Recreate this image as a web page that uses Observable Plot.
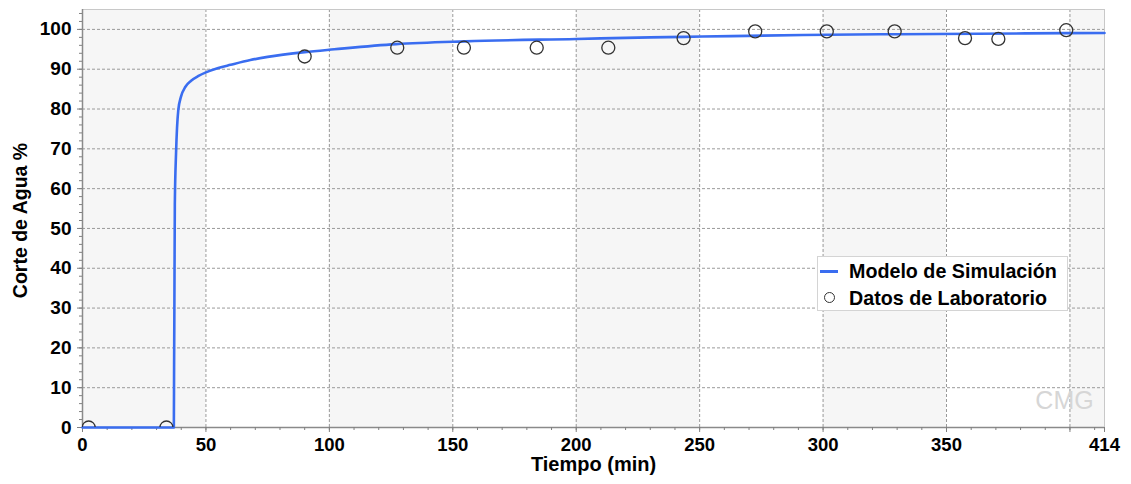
<!DOCTYPE html>
<html>
<head>
<meta charset="utf-8">
<script src="https://cdn.jsdelivr.net/npm/d3@7"></script>
<script src="https://cdn.jsdelivr.net/npm/@observablehq/plot@0.6"></script>
<style>
  body { margin: 0; background: #fff; font-family: "Liberation Sans", Arial, sans-serif; }
  #wrap { position: relative; width: 1131px; height: 484px; }
  #legend { position: absolute; left: 817px; top: 256px; width: 251px; height: 55px; background: #fff;
            border: 1px solid #d4d4d4; box-sizing: border-box; }
  .lg-text { position: absolute; left: 31px; font-weight: bold; font-size: 19.7px; line-height: 20px; color: #000; white-space: nowrap; }
  .lg-line { position: absolute; left: 2px; width: 18px; height: 3px; background: #3a6df0; }
  .lg-dot { position: absolute; left: 6px; width: 11px; height: 11px; border: 1.3px solid #333; border-radius: 50%; box-sizing: border-box; }
</style>
</head>
<body>
<div id="wrap">
  <div id="chart"></div>
  <div id="legend">
    <div class="lg-line" style="top:13px"></div>
    <div class="lg-text" style="top:4px">Modelo de Simulación</div>
    <div class="lg-dot" style="top:35px"></div>
    <div class="lg-text" style="top:30.5px">Datos de Laboratorio</div>
  </div>
</div>
<script>
// ---- Data ----
const simT = [0, 37.0, 37.1, 37.2, 37.4, 37.9, 38.8, 39.9, 41.7, 44, 47, 50, 55, 60, 68, 75, 90, 102, 127, 155, 200, 230, 251, 292, 330, 382, 414];
const simV = [0, 0, 15, 27, 56, 69, 79.7, 83.1, 85.6, 87.1, 88.3, 89.2, 90.3, 91.1, 92.3, 93.1, 94.3, 95.0, 96.3, 97.0, 97.6, 98.0, 98.2, 98.6, 98.8, 99.0, 99.1];

const labT = [2.5, 34, 90, 127.5, 154.5, 184, 213, 243.5, 272.5, 301.5, 329, 357.5, 371, 398.5];
const labV = [0, 0, 93.2, 95.4, 95.4, 95.4, 95.4, 97.8, 99.5, 99.5, 99.5, 97.8, 97.6, 99.8];

const bandStart = [0, 100, 200, 300, 400];
const bandEnd = [50, 150, 250, 350, 414];

const xMajorTicks = [0, 50, 100, 150, 200, 250, 300, 350, 400, 414];
const xTickLabels = ["0", "50", "100", "150", "200", "250", "300", "350", "", "414"];
const xGridLines = [50, 100, 150, 200, 250, 300, 350, 400];
const xMinorTicks = d3.range(0, 414, 10);
const yMajorTicks = [0, 10, 20, 30, 40, 50, 60, 70, 80, 90, 100];
const yMinorTicks = d3.range(0, 106, 2);

const xTitle = "Tiempo (min)";
const yTitle = "Corte de Agua %";
const watermark = "CMG";

// ---- Build tables ----
const sim = simT.map((t, i) => ({t, v: simV[i]}));
const lab = labT.map((t, i) => ({t, v: labV[i]}));
const bands = bandStart.map((s, i) => ({x1: s, x2: bandEnd[i]}));
const FONT = "'Liberation Sans', Arial, sans-serif";

const chart = Plot.plot({
  width: 1131,
  height: 484,
  marginLeft: 82,
  marginRight: 27,
  marginTop: 9,
  marginBottom: 57,
  style: {fontFamily: FONT, background: "#fff", overflow: "visible"},
  x: {domain: [0, 414]},
  y: {domain: [0, 105]},
  marks: [
    Plot.rect(bands, {x1: "x1", x2: "x2", y1: 0, y2: 105, fill: "#f6f6f6"}),
    Plot.gridY(yMajorTicks.slice(1), {stroke: "#9a9a9a", strokeOpacity: 1, strokeDasharray: "3,2", strokeWidth: 1}),
    Plot.gridX(xGridLines, {stroke: "#9a9a9a", strokeOpacity: 1, strokeDasharray: "3,2", strokeWidth: 1}),
    Plot.frame({stroke: "#c8c8c8"}),
    Plot.text([watermark], {frameAnchor: "bottom-right", dx: -40, dy: -27, text: d => d, fontSize: 25, fill: "#d6d6d6",
      fontFamily: FONT, textAnchor: "middle", lineAnchor: "middle"}),
    Plot.ruleX([0], {stroke: "#8a8a8a", strokeWidth: 1.5}),
    Plot.ruleY([0], {stroke: "#8a8a8a", strokeWidth: 1.5}),
    Plot.axisX(xMinorTicks, {tickSize: 3, stroke: "#808080", tickFormat: () => "", label: null}),
    Plot.axisX(xMajorTicks, {tickSize: 5, tickPadding: 5, stroke: "#808080", fill: "#000",
      tickFormat: d => xTickLabels[xMajorTicks.indexOf(d)], fontSize: 18.5, fontWeight: "bold", fontFamily: FONT, label: null}),
    Plot.axisY(yMinorTicks, {tickSize: 3, stroke: "#808080", tickFormat: () => "", label: null}),
    Plot.axisY(yMajorTicks, {tickSize: 5, tickPadding: 6, stroke: "#808080", fill: "#000",
      fontSize: 19, fontWeight: "bold", fontFamily: FONT, label: null}),
    Plot.line(sim, {x: "t", y: "v", stroke: "#3a6df0", strokeWidth: 2.6, curve: "monotone-x"}),
    Plot.dot(lab, {x: "t", y: "v", r: 6.5, stroke: "#333", strokeWidth: 1.3, fill: "none", clip: true}),
    Plot.text([xTitle], {frameAnchor: "bottom", dy: 37, text: d => d, fontSize: 20, fontWeight: "bold", fill: "#000",
      fontFamily: FONT, textAnchor: "middle", lineAnchor: "middle"}),
    Plot.text([yTitle], {frameAnchor: "left", dx: -62, dy: 2, rotate: -90, text: d => d, fontSize: 19.5, fontWeight: "bold", fill: "#000",
      fontFamily: FONT, textAnchor: "middle", lineAnchor: "middle"})
  ]
});
document.getElementById("chart").appendChild(chart);
</script>
</body>
</html>
